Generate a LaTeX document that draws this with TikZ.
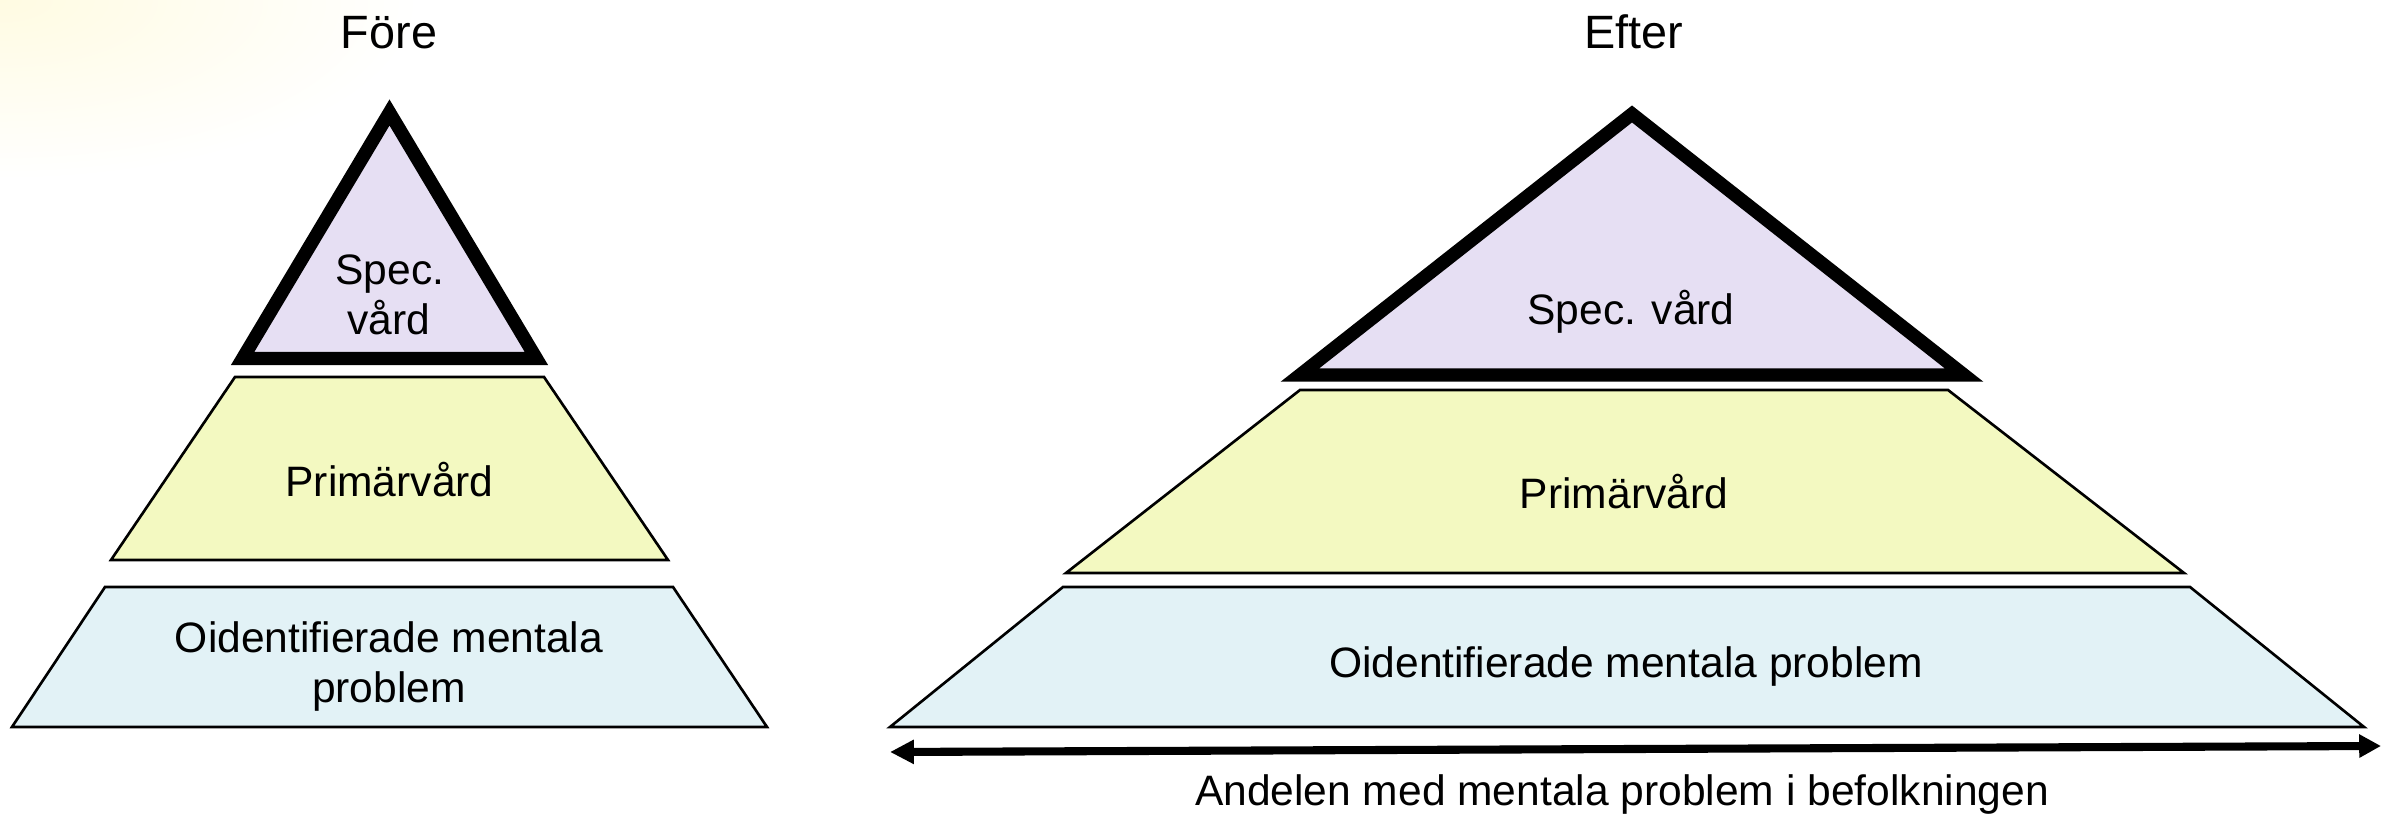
\documentclass[tikz,border=0pt]{standalone}
\usepackage{fontspec}
\setmainfont{Liberation Sans}
\usetikzlibrary{arrows.meta}
\definecolor{lav}{RGB}{230,223,243}
\definecolor{ylw}{RGB}{243,249,193}
\definecolor{lbl}{RGB}{226,242,246}
\definecolor{glow}{RGB}{255,251,226}
\tikzset{
  layer/.style={draw=black, line width=0.75pt, line join=miter},
  apexbox/.style={draw=black, line width=3.8pt, line join=miter, miter limit=10},
  txt/.style={font=\fontsize{12.1}{14.2}\selectfont, anchor=base, inner sep=0pt},
  ttl/.style={font=\fontsize{13.3}{16}\selectfont, anchor=base, inner sep=0pt},
  axisarrow/.style={line width=2.3pt, {Triangle[length=6.8pt,width=6.5pt]}-{Triangle[length=6.2pt,width=6.3pt]}}
}
\begin{document}
\begin{tikzpicture}[x=0.01cm,y=-0.01cm]
\useasboundingbox (0,0) rectangle (2381,816);
\begin{scope}
  \clip (0,0) rectangle (2381,816);
  \shade[inner color=glow, outer color=white] (0,0) ellipse [x radius=420, y radius=180];
\end{scope}

% Before
\draw[layer, fill=lbl] (105,587) -- (673,587) -- (767,727) -- (12,727) -- cycle;
\draw[layer, fill=ylw] (235,377) -- (544,377) -- (668,560) -- (111,560) -- cycle;
\draw[apexbox, fill=lav] (389.5,112.5) -- (536.4,358.5) -- (242.6,358.5) -- cycle;

\node[ttl] (fore) at (389,49) {Före};
\node[txt] (specA1) at (390,285) {Spec.};
\node[txt] (specA2) at (389,335) {vård};
\node[txt] (primA) at (389.5,497) {Primärvård};
\node[txt] (oidA1) at (389,653) {Oidentifierade mentala};
\node[txt] (oidA2) at (389,703) {problem};

% After
\draw[layer, fill=lbl] (1063,587) -- (2190,587) -- (2364,727) -- (890,727) -- cycle;
\draw[layer, fill=ylw] (1300,390) -- (1948,390) -- (2184,573) -- (1066,573) -- cycle;
\draw[apexbox, fill=lav] (1632,114) -- (1964,375) -- (1300,375) -- cycle;

\node[ttl] (efter) at (1634,49) {Efter};
\node[txt] (specB) at (1631,325) {Spec. vård};
\node[txt] (primB) at (1624,509) {Primärvård};
\node[txt] (oidB) at (1626,678) {Oidentifierade mentala problem};

\coordinate (aL) at (890,752);
\coordinate (aR) at (2381,746);
\draw[axisarrow] (aL) -- (aR);
\node[txt] (andel) at (1622,806) {Andelen med mentala problem i befolkningen};
\end{tikzpicture}
\end{document}
